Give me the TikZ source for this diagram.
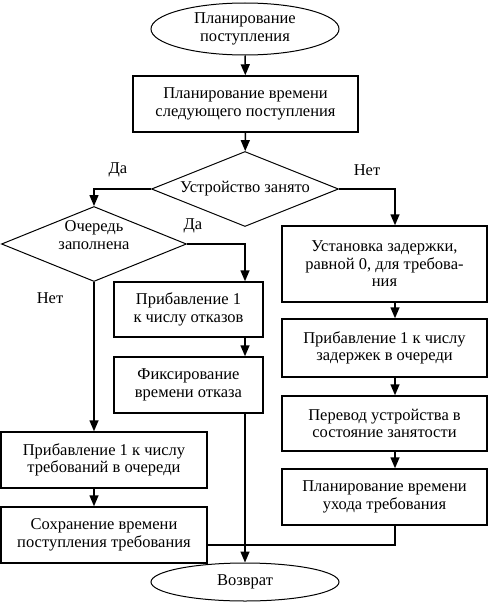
\documentclass[tikz,border=0pt]{standalone}
\usepackage{fontspec}
\setmainfont{Liberation Serif}
\usetikzlibrary{shapes.geometric,arrows.meta,calc}
\begin{document}
\begin{tikzpicture}[x=1pt,y=-1pt,
  every node/.style={font=\fontsize{16.5}{17.5}\selectfont},
  txt/.style={inner sep=0pt,align=center},
  stepbox/.style={draw,line width=1.5pt,inner sep=0pt,align=center},
  term/.style={draw,ellipse,line width=1pt,inner sep=0pt,align=center},
  dia/.style={draw,diamond,line width=1pt,inner sep=0pt,aspect=2.5,align=center},
  conn/.style={line width=1.5pt},
  arr/.style={conn,-{Triangle[length=11pt,width=9pt]}}]
\useasboundingbox (0,0) rectangle (489,602);
% columns
\coordinate (ax) at (245,0);
\coordinate (lx) at (94,0);
\coordinate (rx) at (395,0);
\coordinate (jy) at (0,545);
% nodes
\node[term,minimum width=188pt,minimum height=52pt] (start) at (245,29) {Планирование\\поступления};
\node[stepbox,minimum width=225pt,minimum height=56pt] (b1) at (245.5,104) {Планирование времени\\следующего поступления};
\node[dia,minimum width=187pt,minimum height=75pt] (d1) at (245,189) {Устройство занято};
\node[dia,minimum width=185pt,minimum height=75pt] (d2) at (94,244) {};
\node[txt] (d2t) at (94,235) {Очередь\\заполнена};
\node[stepbox,minimum width=149pt,minimum height=55pt] (a1) at (188.5,309.5) {Прибавление 1\\к числу отказов};
\node[stepbox,minimum width=149pt,minimum height=56pt] (a2) at (188.5,385) {Фиксирование\\времени отказа};
\node[stepbox,minimum width=206pt,minimum height=56pt] (l1) at (104,460) {Прибавление 1 к числу\\требований в очереди};
\node[stepbox,minimum width=206pt,minimum height=56pt] (l2) at (104,535) {Сохранение времени\\поступления требования};
\node[stepbox,minimum width=205pt,minimum height=76pt] (r1) at (384.5,264) {Установка задержки,\\равной 0, для требова-\\ния};
\node[stepbox,minimum width=205pt,minimum height=58pt] (r2) at (384.5,348) {Прибавление 1 к числу\\задержек в очереди};
\node[stepbox,minimum width=205pt,minimum height=55pt] (r3) at (384.5,423.5) {Перевод устройства в\\состояние занятости};
\node[stepbox,minimum width=205pt,minimum height=56pt] (r4) at (384.5,497) {Планирование времени\\ухода требования};
\node[term,minimum width=188pt,minimum height=38pt] (end) at (245,582) {Возврат};
% labels
\node[txt] (ly1) at (118,170) {Да};
\node[txt] (ln1) at (367,170) {Нет};
\node[txt] (ly2) at (193,226) {Да};
\node[txt] (ln2) at (50,298) {Нет};
% connectors
\draw[arr] (start) -- (b1);
\draw[arr] (b1) -- (d1);
\draw[arr] (d1.west) -| (d2.north);
\draw[arr] (d1.east) -| (rx |- r1.north);
\draw[arr] (d2.east) -| (ax |- a1.north);
\draw[arr] (d2.south) -- (d2.south |- l1.north);
\draw[arr] (lx |- l1.south) -- (lx |- l2.north);
\draw[arr] (ax |- a1.south) -- (ax |- a2.north);
\draw[arr] (ax |- a2.south) -- (end.north);
\draw[arr] (rx |- r1.south) -- (rx |- r2.north);
\draw[arr] (rx |- r2.south) -- (rx |- r3.north);
\draw[arr] (rx |- r3.south) -- (rx |- r4.north);
\draw[conn] (l2.east |- jy) -| (rx |- r4.south);
\end{tikzpicture}
\end{document}
